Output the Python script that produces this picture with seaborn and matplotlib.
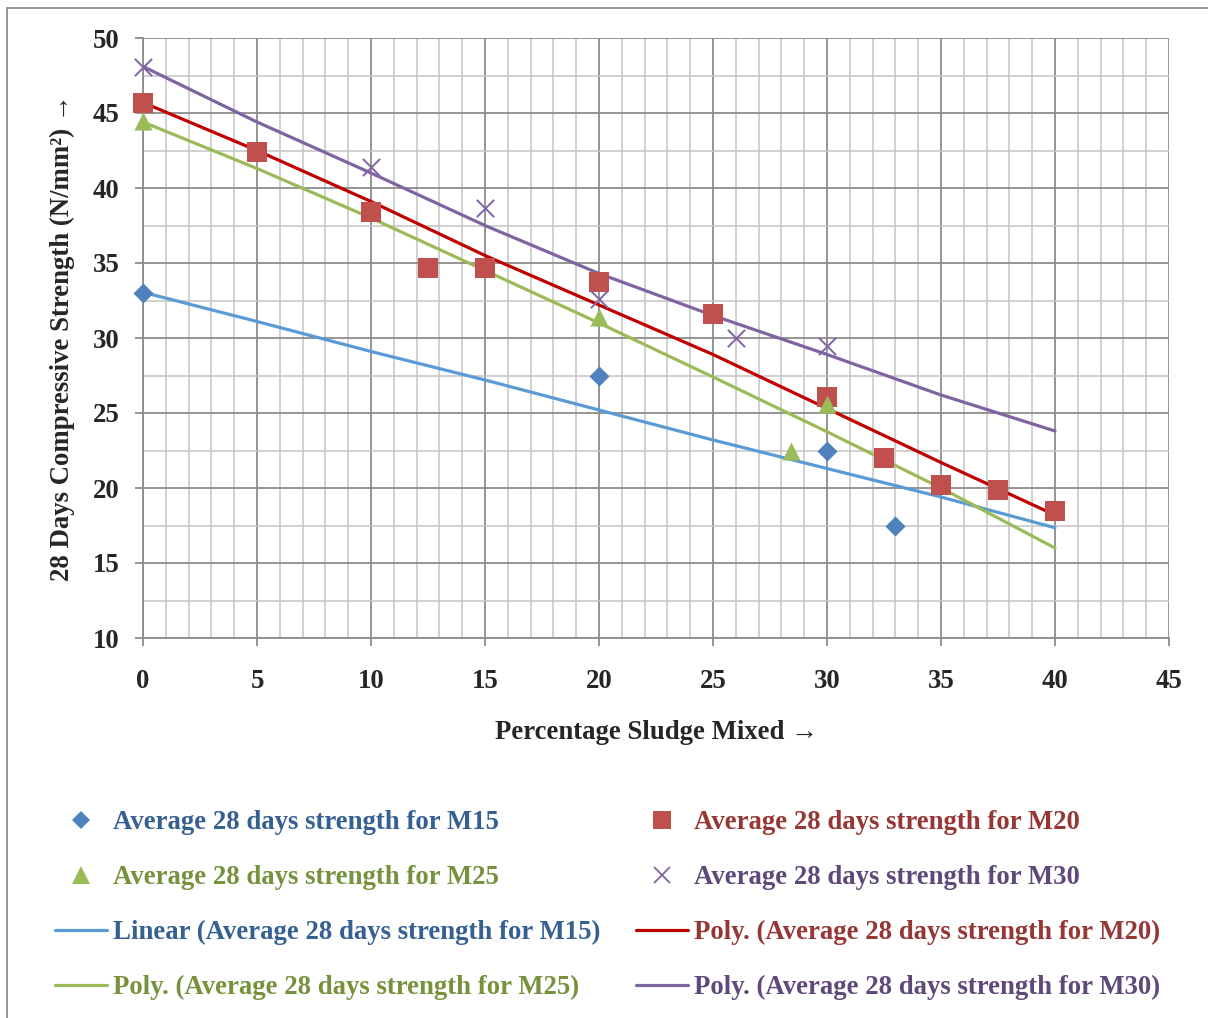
import numpy as np
import pandas as pd
import matplotlib
matplotlib.use("Agg")
import matplotlib.pyplot as plt
from matplotlib.lines import Line2D
from matplotlib.patches import Rectangle
from matplotlib.ticker import MultipleLocator
import seaborn as sns

# ---------------- data ----------------
pct_m15 = [0, 20, 30, 33]
str_m15 = [33.0, 27.5, 22.5, 17.5]

pct_m20 = [0, 5, 10, 12.5, 15, 20, 25, 30, 32.5, 35, 37.5, 40]
str_m20 = [45.7, 42.4, 38.4, 34.7, 34.7, 33.7, 31.6, 26.1, 22.0, 20.2, 19.9, 18.5]

pct_m25 = [0, 20, 28.4, 30]
str_m25 = [44.5, 31.4, 22.5, 25.6]

pct_m30 = [0, 10, 15, 20, 26, 30]
str_m30 = [48.1, 41.4, 38.7, 32.6, 30.0, 29.5]

# trendlines as drawn in the reference (read at every 5 %)
trend_x = [0, 5, 10, 15, 20, 25, 30, 35, 40]
trend_m15 = [33.05, 31.1, 29.1, 27.2, 25.2, 23.2, 21.3, 19.4, 17.35]
trend_m20 = [45.7, 42.5, 39.1, 35.5, 32.2, 28.9, 25.3, 21.7, 18.2]
trend_m25 = [44.4, 41.3, 38.0, 34.5, 31.0, 27.4, 23.75, 20.0, 16.0]
trend_m30 = [48.1, 44.4, 41.0, 37.5, 34.3, 31.5, 28.9, 26.2, 23.8]

labels_pts = ["Average 28 days strength for M15", "Average 28 days strength for M20",
              "Average 28 days strength for M25", "Average 28 days strength for M30"]
labels_trend = ["Linear (Average 28 days strength for M15)",
                "Poly. (Average 28 days strength for M20)",
                "Poly. (Average 28 days strength for M25)",
                "Poly. (Average 28 days strength for M30)"]

x_ticks = [0, 5, 10, 15, 20, 25, 30, 35, 40, 45]
y_ticks = [10, 15, 20, 25, 30, 35, 40, 45, 50]

# ---------------- style ----------------
sns.set_theme(style="white")
plt.rcParams['font.family'] = ['Liberation Serif', 'DejaVu Serif']
plt.rcParams['font.weight'] = 'bold'
FS = 19.3

W, H = 1208, 1018
fig = plt.figure(figsize=(W / 100, H / 100), dpi=100)
fig.patch.set_facecolor("white")
ax = fig.add_axes([143 / W, 1 - 638 / H, (1169 - 143) / W, 600 / H])

mk_col = {"m15": "#4F81BD", "m20": "#C0504D", "m25": "#9BBB59", "m30": "#8064A2"}
ln_col = {"m15": "#5B9BD5", "m20": "#C00000", "m25": "#9BBB59", "m30": "#8064A2"}
txt_col = ["#376092", "#953735", "#76923C", "#5F497A"]

# trend lines
for tr, key in [(trend_m15, "m15"), (trend_m25, "m25"), (trend_m20, "m20"), (trend_m30, "m30")]:
    sns.lineplot(x=trend_x, y=tr, ax=ax, color=ln_col[key], linewidth=2.3, zorder=3,
                 legend=False)

# markers
sns.scatterplot(x=pct_m15, y=str_m15, ax=ax, marker="D", s=105, color=mk_col["m15"],
                linewidth=0, zorder=4, legend=False, clip_on=False)
sns.scatterplot(x=pct_m20, y=str_m20, ax=ax, marker="s", s=200, color=mk_col["m20"],
                linewidth=0, zorder=4, legend=False, clip_on=False)
sns.scatterplot(x=pct_m25, y=str_m25, ax=ax, marker="^", s=170, color=mk_col["m25"],
                linewidth=0, zorder=4, legend=False, clip_on=False)
sns.scatterplot(x=pct_m30, y=str_m30, ax=ax, marker="x", s=155, color=mk_col["m30"],
                linewidth=1.4, zorder=5, legend=False, clip_on=False)

# axes
ax.set_xlim(0, 45)
ax.set_ylim(10, 50)
ax.set_xticks(x_ticks)
ax.set_yticks(y_ticks)
ax.set_xticklabels([str(v) for v in x_ticks])
ax.set_yticklabels([str(v) for v in y_ticks])
ax.xaxis.set_minor_locator(MultipleLocator(1))
ax.yaxis.set_minor_locator(MultipleLocator(2.5))
ax.set_axisbelow(True)
ax.grid(which="major", color="#8C8C8C", linewidth=1.3)
ax.grid(which="minor", color="#C4C4C4", linewidth=1.1)
for s in ["top", "right"]:
    ax.spines[s].set_visible(False)
for s in ["left", "bottom"]:
    ax.spines[s].set_color("#8C8C8C")
    ax.spines[s].set_linewidth(1.3)
ax.tick_params(which="major", direction="out", length=6, width=1.3, color="#8C8C8C",
               labelsize=FS, left=True, bottom=True)
ax.tick_params(axis="x", which="major", pad=16)
ax.tick_params(axis="y", which="major", pad=11)
ax.tick_params(which="minor", length=0)
for t in ax.get_xticklabels() + ax.get_yticklabels():
    t.set_fontweight("bold")

ax.set_xlabel("Percentage Sludge Mixed \u2192", fontsize=FS, fontweight="bold")
ax.set_ylabel("28 Days Compressive Strength (N/mm\u00b2) \u2192", fontsize=FS, fontweight="bold")
ax.xaxis.set_label_coords(0.5, (638 - 720) / 600)
ax.yaxis.set_label_coords((75 - 143) / 1026, 0.5)

# legend (two columns)
h_m15 = Line2D([], [], linestyle="none", marker="D", markersize=9.2, color=mk_col["m15"], markeredgewidth=0)
h_m20 = Line2D([], [], linestyle="none", marker="s", markersize=12.5, color=mk_col["m20"], markeredgewidth=0)
h_m25 = Line2D([], [], linestyle="none", marker="^", markersize=12.3, color=mk_col["m25"], markeredgewidth=0)
h_m30 = Line2D([], [], linestyle="none", marker="x", markersize=12, color=mk_col["m30"], markeredgewidth=1.3)
l_m15 = Line2D([], [], color=ln_col["m15"], linewidth=2.3)
l_m20 = Line2D([], [], color=ln_col["m20"], linewidth=2.3)
l_m25 = Line2D([], [], color=ln_col["m25"], linewidth=2.3)
l_m30 = Line2D([], [], color=ln_col["m30"], linewidth=2.3)

common = dict(loc="upper left", frameon=False, borderpad=0, borderaxespad=0,
              handlelength=1.95, handletextpad=0.2, labelspacing=1.12,
              prop={"family": "Liberation Serif", "weight": "bold", "size": FS})
leg1 = fig.legend([h_m15, h_m25, l_m15, l_m25],
                  [labels_pts[0], labels_pts[2], labels_trend[0], labels_trend[2]],
                  bbox_to_anchor=(55 / W, 1 - 810 / H),
                  labelcolor=[txt_col[0], txt_col[2], txt_col[0], txt_col[2]], **common)
leg2 = fig.legend([h_m20, h_m30, l_m20, l_m30],
                  [labels_pts[1], labels_pts[3], labels_trend[1], labels_trend[3]],
                  bbox_to_anchor=(636 / W, 1 - 810 / H),
                  labelcolor=[txt_col[1], txt_col[3], txt_col[1], txt_col[3]], **common)

# chart-area border (cropped at right and bottom in the reference)
fig.patches.append(Rectangle((7.5 / W, -0.05), 1.1, 1 - 8 / H + 0.05, transform=fig.transFigure,
                             fill=False, edgecolor="#8C8C8C", linewidth=1.3))

fig.savefig("out.png", dpi=100, facecolor="white")
